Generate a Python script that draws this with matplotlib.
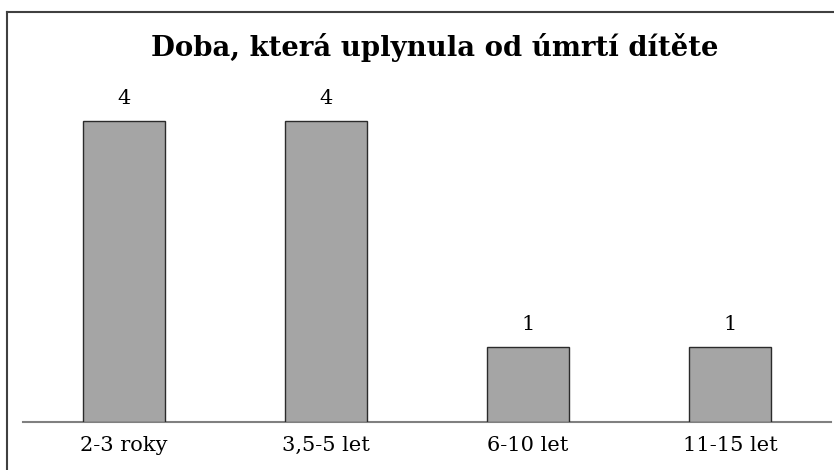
import matplotlib
matplotlib.use("Agg")
import matplotlib.pyplot as plt
from matplotlib.lines import Line2D

categories = ["2-3 roky", "3,5-5 let", "6-10 let", "11-15 let"]
counts = [4, 4, 1, 1]
title = "Doba, která uplynula od úmrtí dítěte"

plt.rcParams['font.family'] = ['DejaVu Serif']

W, H = 834, 470
fig = plt.figure(figsize=(W / 100, H / 100), dpi=100)

# plot area
ax = fig.add_axes([23 / W, (H - 421.7) / H, (831 - 23) / W, (421.7 - 45.7) / H])
bars = ax.bar(range(len(categories)), counts, width=0.405,
              color="#a5a5a5", edgecolor="#2b2b2b", linewidth=1.0, zorder=3)
ax.set_xlim(-0.5, len(categories) - 0.5)
ax.set_ylim(0, 5)

for b, v in zip(bars, counts):
    ax.text(b.get_x() + b.get_width() / 2, v + 0.17, str(v),
            ha="center", va="bottom", fontsize=15)

for s in ["left", "right", "top"]:
    ax.spines[s].set_visible(False)
ax.spines["bottom"].set_color("#808080")
ax.spines["bottom"].set_linewidth(1.5)
ax.set_yticks([])
ax.set_xticks(range(len(categories)))
ax.set_xticklabels(categories, fontsize=15)
ax.tick_params(axis="x", length=0, pad=10)

fig.text(435 / W, 1 - 47 / H, title, ha="center", va="center",
         fontsize=19.8, fontweight="bold")

# chart frame (cropped at right and bottom)
fig.add_artist(Line2D([7 / W, 7 / W], [0, 1 - 12 / H], transform=fig.transFigure,
                      color="#404040", linewidth=1.5))
fig.add_artist(Line2D([7 / W, 1], [1 - 12 / H, 1 - 12 / H], transform=fig.transFigure,
                      color="#404040", linewidth=1.5))

fig.savefig("out.png", dpi=100)
